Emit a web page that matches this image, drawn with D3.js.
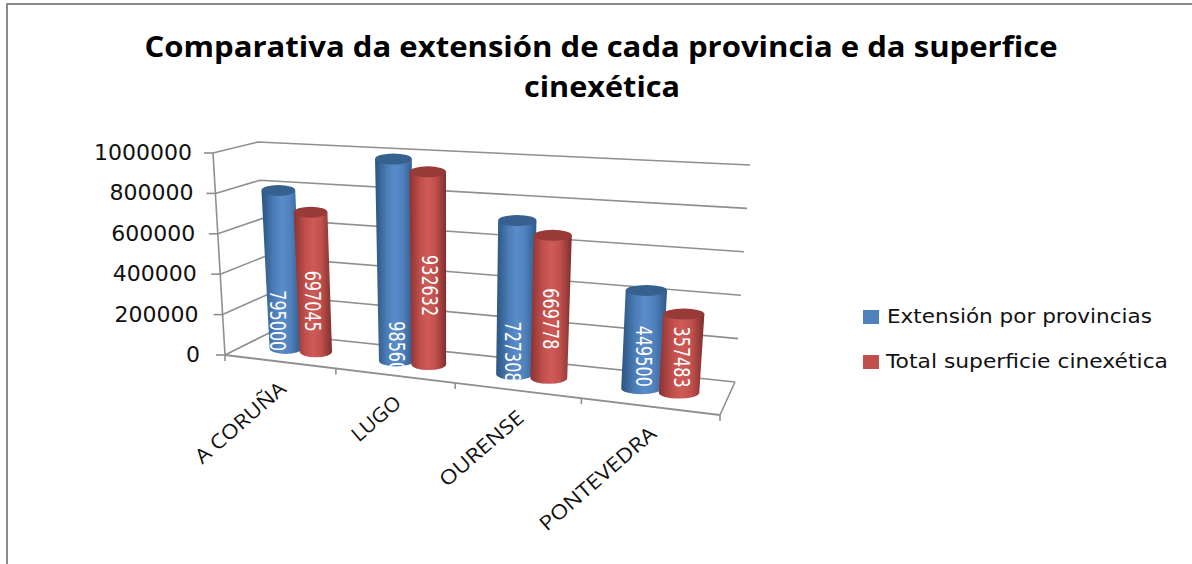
<!DOCTYPE html>
<html><head><meta charset="utf-8">
<script src="https://cdn.jsdelivr.net/npm/d3@7"></script>
<style>html,body{margin:0;background:#fff}svg{display:block}</style>
</head><body><svg id="c" width="1192" height="564"></svg>
<script>
const categories = ["A CORUÑA","LUGO","OURENSE","PONTEVEDRA"];
const seriesNames = ["Extensión por provincias","Total superficie cinexética"];
const extension = [795000,985600,727308,449500];
const cinexetica = [697045,932632,669778,357483];
const titleLines = ["Comparativa da extensión de cada provincia e da superfice","cinexética"];

// layout (not data): where each rotated value label sits along its bar
const labelFrac = [[.175,.045,.145,.33],[.362,.41,.415,.455]];
const labelShift = [[-7,0,-2,0],[-1,1,0,0]];
const colors = [
 {stops:["#2b5480","#4a7cb6","#5a8ccb","#4f81bd","#2d5a8a"],top:"#36618f"},
 {stops:["#8a3331","#c14f4c","#cf5b57","#c0504d","#7e2f2d"],top:"#973a38"}];

const svg = d3.select("#c");
const defs = svg.append("defs");
colors.forEach((c,i)=>{
  const g = defs.append("linearGradient").attr("id","g"+i);
  c.stops.forEach((s,k)=>g.append("stop").attr("offset",[0,.3,.5,.72,1][k]).attr("stop-color",s));
});

// frame
svg.append("path").attr("d","M7,564V4H1192").attr("fill","none").attr("stroke","#8a8a8a").attr("stroke-width",2);

// pseudo-3D box: u across, v depth, w height -> trilinear between the corners
const corners = {fl0:[225,355],fl1:[213,153],bl0:[269,333],bl1:[258,142],
                 br0:[735,382],br1:[750,165],fr0:[720,415],fr1:[737,185]};
const lerp=(a,b,t)=>a+(b-a)*t;
const mix=(a,b,t)=>[lerp(a[0],b[0],t),lerp(a[1],b[1],t)];
function P(u,v,w){
  const f=mix(mix(corners.fl0,corners.fr0,u),mix(corners.fl1,corners.fr1,u),w);
  const b=mix(mix(corners.bl0,corners.br0,u),mix(corners.bl1,corners.br1,u),w);
  return mix(f,b,v);
}
const yScale=d3.scaleLinear().domain([0,1000000]).range([0,1]);
const xScale=d3.scaleLinear().domain([0,1,2,3,4]).range([0,.224,.465,.72,1]);
const axisColor="#8f8f8f";
const line=(a,b,sw=1.6)=>svg.append("line").attr("x1",a[0]).attr("y1",a[1]).attr("x2",b[0]).attr("y2",b[1])
   .attr("stroke",axisColor).attr("stroke-width",sw);

// walls and gridlines
yScale.ticks(5).forEach(t=>{
  const w=yScale(t);
  svg.append("polyline").attr("points",[P(0,0,w),P(0,1,w),P(1,1,w)].map(p=>p.join(",")).join(" "))
     .attr("fill","none").attr("stroke",axisColor).attr("stroke-width",1.6);
  const a=P(0,0,w);
  line([a[0]-9,a[1]],a);
  const label=d3.format("d")(t);
  svg.append("text").attr("x",a[0]-(25-4*w)).attr("y",a[1]+7).attr("text-anchor","end")
     .attr("font-family","DejaVu Sans").attr("font-size",21).attr("fill","#111")
     .attr("textLength",label.length*14).attr("lengthAdjust","spacingAndGlyphs").text(label);
});
line(P(0,0,0),P(0,0,1));
line(P(0,0,0),P(1,0,0),1.8);
line(P(1,0,0),P(1,1,0));
d3.range(5).forEach(i=>{const a=P(xScale(i),0,0);line(a,[a[0],a[1]+6]);});

// cylinders
const vc=.5, dy=5.5, rad=.15, off=.14;
function bar(s,i,val){
  const o=s===0?-off:off;
  const uc=xScale(i+.5+o), ul=xScale(i+.5+o-rad), ur=xScale(i+.5+o+rad);
  const w=yScale(val);
  const level=(l,r,c)=>{const h=(r[0]-l[0])/2;return [[c[0]-h,c[1]],[c[0]+h,c[1]],h];};
  const [tl,tr,rt]=level(P(ul,vc,w),P(ur,vc,w),P(uc,vc,w));
  const [bl,br,rb]=level(P(ul,vc,0),P(ur,vc,0),P(uc,vc,0));
  const body=`M${tl}L${tr}L${br}A${rb},${dy},0,0,1,${bl}Z`;
  const topE=`M${tl}A${rt},${dy},0,1,1,${tr}A${rt},${dy},0,1,1,${tl}Z`;
  const g=svg.append("g");
  g.append("path").attr("d",body).attr("fill",`url(#g${s})`);
  g.append("path").attr("d",topE).attr("fill",colors[s].top);
  const id=`clip${s}${i}`;
  defs.append("clipPath").attr("id",id).append("path").attr("d",body);
  const c=P(uc,vc,w*labelFrac[s][i]);
  g.append("g").attr("clip-path",`url(#${id})`).append("text")
    .attr("transform",`translate(${c[0]+labelShift[s][i]},${c[1]}) rotate(90) scale(1,1.3)`)
    .attr("text-anchor","middle").attr("dy","0.36em")
    .attr("font-family","DejaVu Sans").attr("font-size",16).attr("fill","#fff")
    .text(d3.format("d")(val));
}
categories.forEach((c,i)=>{bar(0,i,extension[i]);bar(1,i,cinexetica[i]);});

// category labels
const catLen=[113,58,104,147];
categories.forEach((c,i)=>{
  const a=P(xScale(i+.5),0,0);
  svg.append("text").attr("transform",`translate(${a[0]+7},${a[1]+29}) rotate(-41)`)
    .attr("text-anchor","end").attr("font-family","Open Sans").attr("font-size",20).attr("fill","#111")
    .attr("textLength",catLen[i]).attr("lengthAdjust","spacingAndGlyphs").text(c);
});

// title
[[titleLines[0],601,57,913],[titleLines[1],602,97,156]].forEach(([t,x,y,l])=>
  svg.append("text").attr("x",x).attr("y",y).attr("text-anchor","middle").attr("font-family","Open Sans")
   .attr("font-weight",700).attr("font-size",29).attr("fill","#000")
   .attr("textLength",l).attr("lengthAdjust","spacingAndGlyphs").text(t));

// legend
[[863,310,887,323,265],[863,355,886,368,282]].forEach(([sx,sy,tx,ty,l],i)=>{
  svg.append("rect").attr("x",sx).attr("y",sy).attr("width",16).attr("height",14).attr("fill",i?"#c0504d":"#4f81bd");
  svg.append("text").attr("x",tx).attr("y",ty).attr("font-family","DejaVu Sans").attr("font-size",20).attr("fill","#111")
   .attr("textLength",l).attr("lengthAdjust","spacingAndGlyphs").text(seriesNames[i]);
});
</script></body></html>
